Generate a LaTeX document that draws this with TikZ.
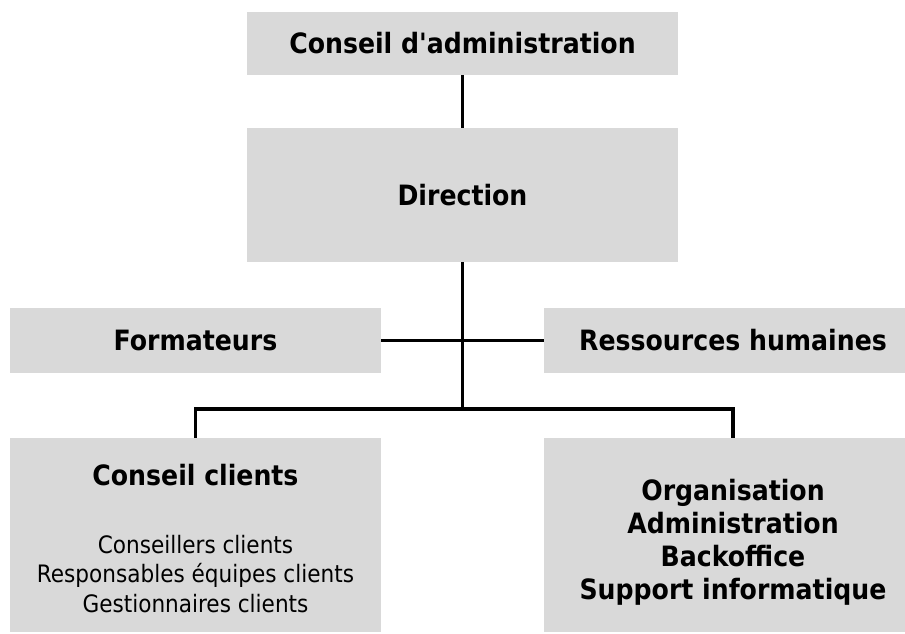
\documentclass[tikz,border=0pt]{standalone}
\usepackage{fontspec}
\setmainfont{DejaVu Sans Condensed}
\usetikzlibrary{calc}
\definecolor{boxgray}{HTML}{D9D9D9}

\begin{document}
\begin{tikzpicture}[x=1pt,y=-1pt,
    box/.style={fill=boxgray, inner sep=0pt, align=center,
        font=\bfseries\fontsize{28}{33}\selectfont},
    link/.style={line width=3.6pt}]
    \useasboundingbox (0,0) rectangle (905,633);

    % Boxes
    \node[box, minimum width=431pt, minimum height=63pt] (board) at (462.5,43.5) {Conseil d\textquotesingle administration};
    \node[box, minimum width=431pt, minimum height=134pt] (direction) at (462.5,195) {Direction};
    \node[box, minimum width=371pt, minimum height=65pt] (trainers) at (195.5,340.5) {Formateurs};
    \node[box, minimum width=378pt, minimum height=65pt] (hr) at (733,340.5) {Ressources humaines};
    \node[box, minimum width=371pt, minimum height=194pt] (clients) at (195.5,535)
        {\rule{0pt}{36pt}Conseil clients\\[35pt]
         \mdseries\fontsize{24}{29.5}\selectfont
         \begin{tabular}[t]{@{}c@{}}Conseillers clients\\
         Responsables équipes clients\\ Gestionnaires clients\end{tabular}};
    \node[box, minimum width=378pt, minimum height=194pt] (support) at (733,535)
        {\rule{0pt}{36pt}Organisation\\ Administration\\ Backoffice\\ Support informatique};

    % Connectors
    \coordinate (split) at (462.5,409);
    \draw[link] (board.south) -- (direction.north);
    \draw[link] (direction.south) -- (split);
    \draw[link] (trainers.east) -- (hr.west);
    \draw[link] (clients.north) |- (split) -| (support.north);
\end{tikzpicture}
\end{document}
